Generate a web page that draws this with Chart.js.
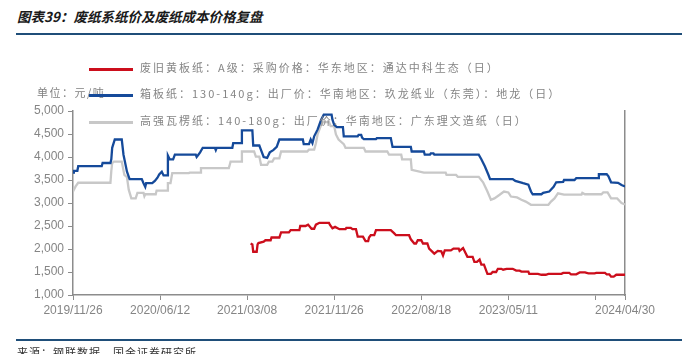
<!DOCTYPE html>
<html>
<head>
<meta charset="utf-8">
<script src="https://cdn.jsdelivr.net/npm/chart.js@4.4.1/dist/chart.umd.min.js"></script>
<style>
  body { margin: 0; width: 691px; height: 354px; overflow: hidden; background: #fff; position: relative; font-family: "Noto Sans CJK SC", sans-serif; }
  #title { position: absolute; left: 17px; top: 6px; font-size: 13.5px; font-weight: bold; font-style: italic; color: #1a1a1a; }
  .rule { position: absolute; left: 16px; width: 666px; height: 2px; background: #1f4e79; }
  #chart { position: absolute; left: 0; top: 0; }
  #unit { position: absolute; left: 37px; top: 84px; font-size: 11px; line-height: 16px; color: #808080; letter-spacing: 1.5px; }
  .lg { position: absolute; left: 89px; font-size: 11px; line-height: 14px; color: #858585; letter-spacing: 2px; white-space: nowrap; }
  .lg i { display: inline-block; width: 44px; height: 3px; vertical-align: middle; margin-right: 7px; }
  #src { position: absolute; left: 17px; top: 344px; font-size: 11px; color: #333; letter-spacing: 1px; }
</style>
</head>
<body>
<div id="title">图表39：废纸系纸价及废纸成本价格复盘</div>
<div class="rule" style="top:33px"></div>
<canvas id="chart" width="691" height="354"></canvas>
<div id="unit">单位：元/吨</div>
<div id="legend"></div>
<div class="rule" style="top:339px"></div>
<div id="src">来源：钢联数据，国金证券研究所</div>

<script>
// x is a trading-day position, 100 units between two labelled ticks
const tickPos = [0, 100, 200, 300, 400, 500, 600, 634];
const tickLabels = ['2019/11/26', '2020/06/12', '2021/03/08', '2021/11/26', '2022/08/18', '2023/05/11', '', '2024/04/30'];

const seriesNames = [
    '废旧黄板纸：A级：采购价格：华东地区：通达中科生态（日）',
    '箱板纸：130-140g：出厂价：华南地区：玖龙纸业（东莞）：地龙（日）',
    '高强瓦楞纸：140-180g：出厂价：华南地区：广东理文造纸（日）'
];
const seriesColors = ['#cc0e1c', '#154a9a', '#c8c8c8'];

const wastePaper = [[204,2120],[206,2100],[207,1940],[211,1940],[212,2100],[213,2130],[219,2160],[221,2190],[227,2190],[228,2250],[237,2250],[239,2360],[248,2360],[250,2410],[260,2410],[261,2500],[267,2500],[270,2530],[274,2440],[277,2440],[279,2530],[283,2570],[294,2570],[295,2530],[298,2450],[301,2480],[304,2450],[306,2430],[313,2430],[314,2460],[319,2460],[321,2430],[325,2430],[327,2270],[333,2270],[336,2170],[339,2170],[340,2250],[342,2300],[346,2300],[348,2410],[365,2410],[369,2340],[371,2300],[386,2300],[388,2210],[392,2120],[394,2120],[396,2190],[400,2190],[402,2120],[407,2120],[409,2010],[415,1900],[419,1960],[423,1950],[425,1860],[427,1970],[434,1970],[437,2010],[443,2010],[444,1960],[448,2020],[449,2020],[453,1830],[459,1830],[461,1720],[464,1720],[467,1770],[469,1660],[472,1660],[476,1460],[480,1460],[482,1500],[486,1500],[488,1570],[492,1570],[494,1550],[498,1570],[505,1570],[509,1530],[513,1530],[515,1510],[523,1510],[524,1460],[534,1460],[538,1440],[543,1440],[546,1460],[561,1460],[563,1480],[570,1480],[572,1450],[578,1450],[582,1490],[588,1490],[592,1470],[599,1470],[601,1480],[611,1480],[613,1450],[616,1450],[618,1400],[621,1400],[624,1440],[634,1440]];

const containerboard = [[0,3660],[1,3700],[5,3700],[6,3800],[33,3800],[34,3870],[43,3870],[44,3950],[45,4200],[48,4380],[56,4380],[58,4050],[62,3680],[65,3520],[79,3520],[81,3430],[83,3350],[84,3430],[91,3430],[94,3480],[97,3550],[99,3620],[102,3680],[104,3600],[108,3600],[109,4030],[111,3950],[115,3950],[117,4050],[141,4050],[142,4000],[144,4050],[146,4100],[149,4200],[163,4200],[164,4150],[165,4200],[183,4200],[184,4300],[193,4300],[194,4580],[206,4580],[207,4250],[214,4250],[216,4150],[219,4000],[223,3980],[226,4100],[230,4150],[234,4220],[237,4380],[264,4380],[265,4280],[271,4280],[273,4380],[275,4300],[277,4450],[281,4600],[285,4810],[288,4920],[297,4920],[298,4810],[300,4700],[303,4650],[310,4650],[311,4450],[327,4450],[328,4480],[331,4480],[332,4420],[334,4390],[348,4390],[349,4410],[365,4410],[367,4220],[388,4220],[389,4120],[403,4120],[404,4050],[410,4050],[411,4080],[414,4080],[415,4050],[466,4050],[469,3950],[473,3800],[477,3620],[479,3520],[505,3520],[508,3480],[517,3430],[523,3400],[526,3250],[528,3190],[538,3190],[540,3220],[547,3250],[552,3350],[555,3450],[563,3460],[564,3500],[576,3500],[578,3540],[603,3540],[604,3625],[613,3625],[615,3580],[618,3450],[626,3440],[630,3390],[634,3360]];

const corrugated = [[0,3250],[3,3360],[6,3440],[43,3440],[44,3700],[45,3870],[47,3900],[56,3900],[59,3610],[62,3560],[64,3290],[67,3100],[72,3100],[74,3220],[81,3220],[82,3150],[83,3190],[95,3190],[96,3270],[108,3270],[109,3430],[112,3430],[114,3650],[133,3650],[134,3660],[146,3660],[147,3760],[179,3760],[181,3900],[193,3900],[194,4120],[208,4120],[210,4010],[214,4010],[216,3830],[223,3830],[225,3900],[229,3900],[231,3970],[237,3970],[239,4120],[269,4120],[271,4160],[277,4160],[279,4300],[281,4500],[285,4700],[287,4760],[294,4760],[296,4670],[300,4670],[302,4490],[305,4380],[311,4280],[313,4200],[334,4200],[336,4120],[361,4120],[363,4050],[377,4050],[378,3950],[388,3950],[389,3720],[403,3660],[428,3660],[429,3610],[440,3610],[442,3570],[466,3570],[471,3450],[476,3250],[480,3070],[484,3100],[490,3180],[495,3250],[500,3230],[503,3140],[510,3120],[515,3070],[520,3030],[526,2960],[546,2960],[549,3030],[553,3100],[557,3210],[564,3180],[584,3180],[585,3220],[588,3190],[607,3190],[609,3230],[614,3230],[618,3100],[625,3100],[630,3000],[634,2970]];

const yTicks = { min: 1000, max: 5000, step: 500 };

document.addEventListener('DOMContentLoaded', () => {
    buildLegend();
    drawChart();
});

function buildLegend() {
    const box = document.getElementById('legend');
    const rowCenters = [67, 93, 120];
    seriesNames.forEach((name, i) => {
        const row = document.createElement('div');
        row.className = 'lg';
        row.style.top = (rowCenters[i] - 7) + 'px';
        row.innerHTML = `<i style="background:${seriesColors[i]}"></i>${name}`;
        box.appendChild(row);
    });
}

function drawChart() {
    const ctx = document.getElementById('chart').getContext('2d');
    const axisGrey = '#8c8c8c';
    const tickFont = { family: 'Liberation Sans', size: 12 };
    const toPts = arr => arr.map(p => ({ x: p[0], y: p[1] }));

    new Chart(ctx, {
        type: 'line',
        data: {
            datasets: [wastePaper, containerboard, corrugated].map((arr, i) => ({
                label: seriesNames[i],
                data: toPts(arr),
                borderColor: seriesColors[i],
                borderWidth: 2.3,
                pointRadius: 0,
                tension: 0,
                yAxisID: 'y'
            }))
        },
        options: {
            responsive: false,
            animation: false,
            events: [],
            layout: { padding: { left: 0, right: 66, top: 111, bottom: 29 } },
            plugins: { legend: { display: false }, tooltip: { enabled: false } },
            scales: {
                x: {
                    type: 'linear',
                    min: tickPos[0],
                    max: tickPos[tickPos.length - 1],
                    afterBuildTicks: s => { s.ticks = tickPos.map(v => ({ value: v })); },
                    afterFit: s => { s.height = 30; },
                    ticks: {
                        autoSkip: false, maxRotation: 0, color: '#858585', font: tickFont, padding: 3,
                        callback: (v, i) => tickLabels[i]
                    },
                    grid: { drawOnChartArea: false, tickLength: 5, color: axisGrey },
                    border: { color: axisGrey, width: 1.5 }
                },
                y: {
                    min: yTicks.min,
                    max: yTicks.max,
                    afterFit: s => { s.width = 73; },
                    ticks: {
                        stepSize: yTicks.step, color: '#858585', font: tickFont, padding: 4,
                        callback: v => v.toLocaleString('en-US')
                    },
                    grid: { drawOnChartArea: false, tickLength: 5, color: axisGrey },
                    border: { color: axisGrey, width: 1.5 }
                },
                y1: {
                    position: 'right',
                    min: yTicks.min,
                    max: yTicks.max,
                    afterFit: s => { s.width = 0; },
                    ticks: { display: false },
                    grid: { drawOnChartArea: false, drawTicks: false },
                    border: { color: axisGrey, width: 1.5 }
                }
            }
        }
    });
}
</script>
</body>
</html>
